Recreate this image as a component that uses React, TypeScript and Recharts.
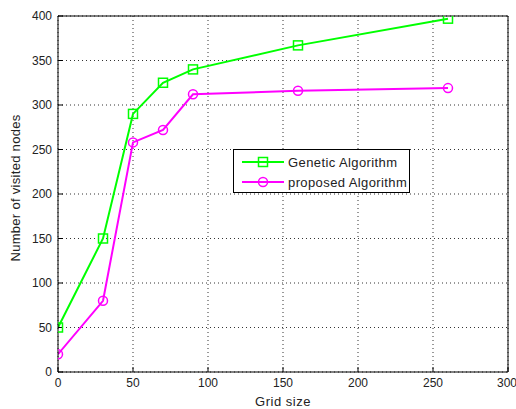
import { LineChart, Line, XAxis, YAxis, CartesianGrid, Legend } from 'recharts'

// values
const gridSizes = [0, 30, 50, 70, 90, 160, 260]
const geneticValues = [50, 150, 290, 325, 340, 367, 397]
const proposedValues = [20, 80, 258, 272, 312, 316, 319]

const xTicks = [0, 50, 100, 150, 200, 250, 300]
const yTicks = [0, 50, 100, 150, 200, 250, 300, 350, 400]

const seriesNames = ['Genetic Algorithm', 'proposed Algorithm']

const GREEN = '#00ff00'
const MAGENTA = '#ff00ff'
const FONT = '"Liberation Sans", Arial, sans-serif'

const chartData = gridSizes.map((x, i) => ({
  x,
  genetic: geneticValues[i],
  proposed: proposedValues[i]
}))

const SquareDot = (props: any) => {
  const { cx, cy } = props
  if (cx == null || cy == null) return null
  return <rect x={cx - 4.5} y={cy - 4.5} width={9} height={9} fill="none" stroke={GREEN} strokeWidth={1.5} />
}

const CircleDot = (props: any) => {
  const { cx, cy } = props
  if (cx == null || cy == null) return null
  return <circle cx={cx} cy={cy} r={4.5} fill="none" stroke={MAGENTA} strokeWidth={1.5} />
}

// legend box like matlab
const LegendBox = () => {
  const rows = [
    { name: seriesNames[0], color: GREEN, marker: 'square' },
    { name: seriesNames[1], color: MAGENTA, marker: 'circle' }
  ]
  return (
    <div style={{ width: 175, height: 42, border: '1px solid #000', background: '#fff', fontFamily: FONT, fontSize: 13, letterSpacing: 0.4, color: '#222' }}>
      {rows.map((r, i) => (
        <div key={r.name} style={{ display: 'flex', alignItems: 'center', height: 20, marginTop: i === 0 ? 2 : 0 }}>
          <svg width={52} height={20}>
            <line x1={8} y1={10} x2={50} y2={10} stroke={r.color} strokeWidth={2} />
            {r.marker === 'square'
              ? <rect x={24.5} y={5.5} width={9} height={9} fill="none" stroke={r.color} strokeWidth={1.5} />
              : <circle cx={29} cy={10} r={4.5} fill="none" stroke={r.color} strokeWidth={1.5} />}
          </svg>
          <span style={{ marginLeft: 2 }}>{r.name}</span>
        </div>
      ))}
    </div>
  )
}

const YTitle = () => {
  const cy = 188
  return (
    <text x={20} y={cy} transform={`rotate(-90, 20, ${cy})`} textAnchor="middle" fontFamily={FONT} fontSize={13} letterSpacing={0.3} fill="#222">
      Number of visited nodes
    </text>
  )
}

const XTitle = (props: any) => {
  const { viewBox } = props
  const cx = viewBox.x + viewBox.width / 2
  return (
    <text x={cx} y={406} textAnchor="middle" fontFamily={FONT} fontSize={13} letterSpacing={0.5} fill="#222">
      Grid size
    </text>
  )
}

export default function App() {
  const tickStyle = { fill: '#222', fontSize: 12, fontFamily: FONT }
  return (
    <div style={{ position: 'absolute', left: 0, top: 0, background: '#fff' }}>
      <LineChart width={516} height={409} data={chartData} margin={{ top: 0, right: 0, bottom: 0, left: 0 }}>
        <CartesianGrid stroke="#333" strokeDasharray="1 3" horizontalValues={yTicks} verticalValues={xTicks} />
        <XAxis
          dataKey="x"
          type="number"
          domain={[0, 300]}
          ticks={xTicks}
          allowDataOverflow
          height={37}
          stroke="#000"
          tickSize={-5}
          tickMargin={11}
          tick={tickStyle}
          label={<XTitle />}
        />
        <XAxis
          xAxisId="top"
          orientation="top"
          type="number"
          domain={[0, 300]}
          ticks={xTicks}
          allowDataOverflow
          height={16}
          stroke="#000"
          tickSize={-5}
          tick={false}
        />
        <YAxis
          type="number"
          domain={[0, 400]}
          ticks={yTicks}
          allowDataOverflow
          width={58}
          stroke="#000"
          tickSize={-5}
          tickMargin={11}
          tick={tickStyle}
          label={<YTitle />}
        />
        <YAxis
          yAxisId="right"
          orientation="right"
          type="number"
          domain={[0, 400]}
          ticks={yTicks}
          allowDataOverflow
          width={8}
          stroke="#000"
          tickSize={-5}
          tick={false}
        />
        <Legend
          layout="vertical"
          align="center"
          verticalAlign="middle"
          content={<LegendBox />}
          wrapperStyle={{ position: 'absolute', left: 233, top: 149, width: 177, height: 44 }}
        />
        <Line
          type="linear"
          dataKey="genetic"
          name={seriesNames[0]}
          stroke={GREEN}
          strokeWidth={2}
          dot={<SquareDot />}
          isAnimationActive={false}
        />
        <Line
          type="linear"
          dataKey="proposed"
          name={seriesNames[1]}
          stroke={MAGENTA}
          strokeWidth={2}
          dot={<CircleDot />}
          isAnimationActive={false}
        />
      </LineChart>
    </div>
  )
}
